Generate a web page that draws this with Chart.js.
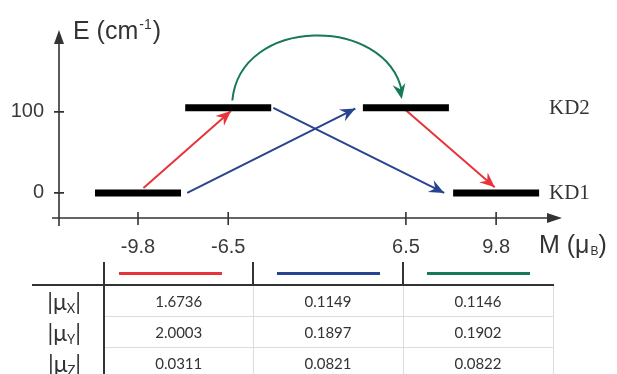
<!DOCTYPE html>
<html>
<head>
<meta charset="utf-8">
<script src="https://cdn.jsdelivr.net/npm/chart.js@4.4.1/dist/chart.umd.min.js"></script>
<style>
  html, body { margin: 0; padding: 0; background: #fff; }
  #wrap { position: relative; width: 617px; height: 374px; overflow: hidden; }
  #chart { position: absolute; left: 0; top: 0; }
  #mu { position: absolute; left: 32px; top: 262px; width: 521px; border-collapse: collapse; table-layout: fixed;
        font-family: Lato, 'Open Sans', 'Liberation Sans', sans-serif; color: #333; }
  #mu th { height: 22px; padding: 0; border-bottom: 2px solid #333; }
  #mu th + th { border-left: 2px solid #333; }
  #mu td { height: 30px; padding: 0; text-align: center; font-size: 15px; line-height: 18px;
           border: 1px solid #dcdcdc; border-top: none; }
  #mu td.lab { border: none; border-right: 2px solid #333; text-align: right; padding-right: 22px;
               font-size: 23px; line-height: 20px; }
  #mu td.lab sub { font-size: 13px; line-height: 0; vertical-align: -3px; }
  .sw { width: 103px; height: 3px; margin: 0 auto; }
  #mu th:nth-child(2) .sw { position: relative; left: -8px; }
</style>
</head>
<body>
<div id="wrap">
  <canvas id="chart" width="617" height="374"></canvas>
  <table id="mu"></table>
</div>
<script>
// energy levels (Kramers doublets) at M = -9.8, -6.5, 6.5, 9.8
const levelNames = ['KD1', 'KD2'];
const levelE = [0, 105];
const stateM = [-9.8, -6.5, 6.5, 9.8];
const stateE = [0, 105, 105, 0];

const mTicks = [-9.8, -6.5, 6.5, 9.8];
const eTicks = [0, 100];

// straight transitions (start M,E -> end M,E)
const transM0 = [-9.6, -8.0, -3.2, 6.5];
const transE0 = [6, 0, 105, 102];
const transM1 = [-6.3, 2.8, 7.9, 9.75];
const transE1 = [101, 104, 0, 7];
const transKind = [0, 1, 1, 0];   // index into colors

// curved (QTM) transition
const qtmM = [-6.2, 6.2];
const qtmE = [114, 116];
const qtmPeakE = 193;

const colors = ['#e6343a', '#28438f', '#17795a'];

// table of transition moments
const muAxes = ['X', 'Y', 'Z'];
const muRed = ['1.6736', '2.0003', '0.0311'];
const muBlue = ['0.1149', '0.1897', '0.0821'];
const muGreen = ['0.1146', '0.1902', '0.0822'];

// the M axis is broken: middle part between -6.5 and 6.5 is squeezed
function warp(m) {
  var a = Math.abs(m);
  return a <= 6.5 ? m * 0.5 : Math.sign(m) * (3.25 + a - 6.5);
}

var datasets = [];
datasets.push({
  data: stateM.map(function(m, i) { return { x: warp(m), y: stateE[i] }; }),
  showLine: false,
  pointStyle: 'line',
  pointRadius: 43,
  pointHoverRadius: 43,
  pointBorderWidth: 7,
  pointBorderColor: '#000',
  borderColor: '#000',
  clip: false,
  order: 0
});
for (var i = 0; i < transM0.length; i++) {
  datasets.push({
    data: [{ x: warp(transM0[i]), y: transE0[i] }, { x: warp(transM1[i]), y: transE1[i] }],
    showLine: true,
    borderColor: colors[transKind[i]],
    borderWidth: 2,
    pointRadius: 0,
    arrow: true,
    clip: false,
    order: 1
  });
}

function arrowHead(ctx, x, y, ang, color) {
  ctx.save();
  ctx.translate(x, y);
  ctx.rotate(ang);
  ctx.beginPath();
  ctx.moveTo(0, 0);
  ctx.lineTo(-15, -6.5);
  ctx.lineTo(-10, 0);
  ctx.lineTo(-15, 6.5);
  ctx.closePath();
  ctx.fillStyle = color;
  ctx.fill();
  ctx.restore();
}

// text with a raised / lowered small part
function richText(ctx, parts, x, y) {
  parts.forEach(function(p) {
    ctx.font = p.size + 'px ' + p.family;
    ctx.fillText(p.t, x, y + (p.dy || 0));
    x += ctx.measureText(p.t).width + (p.gap || 0);
  });
}

const decor = {
  id: 'decor',
  beforeDatasetsDraw: function(chart) {
    var ctx = chart.ctx, ca = chart.chartArea;
    var xs = chart.scales.x, ys = chart.scales.y;
    ctx.save();
    ctx.strokeStyle = '#333';
    ctx.fillStyle = '#333';
    ctx.lineWidth = 1.6;
    ctx.beginPath();
    ctx.moveTo(ca.left, ca.bottom + 8);
    ctx.lineTo(ca.left, ca.top + 10);
    ctx.moveTo(ca.left - 7, ca.bottom);
    ctx.lineTo(ca.right - 10, ca.bottom);
    eTicks.forEach(function(v) {
      var y = ys.getPixelForValue(v);
      ctx.moveTo(ca.left - 5, y);
      ctx.lineTo(ca.left + 5, y);
    });
    mTicks.forEach(function(m) {
      var x = xs.getPixelForValue(warp(m));
      ctx.moveTo(x, ca.bottom - 6);
      ctx.lineTo(x, ca.bottom + 7);
    });
    ctx.stroke();
    // axis arrows
    ctx.beginPath();
    ctx.moveTo(ca.left, ca.top);
    ctx.lineTo(ca.left - 5, ca.top + 14);
    ctx.lineTo(ca.left + 5, ca.top + 14);
    ctx.closePath();
    ctx.moveTo(ca.right, ca.bottom);
    ctx.lineTo(ca.right - 15, ca.bottom - 5);
    ctx.lineTo(ca.right - 15, ca.bottom + 5);
    ctx.closePath();
    ctx.fill();
    ctx.restore();
  },
  afterDraw: function(chart) {
    var ctx = chart.ctx;
    var xs = chart.scales.x, ys = chart.scales.y;
    ctx.save();
    // arrow heads of straight transitions
    chart.data.datasets.forEach(function(ds, di) {
      if (!ds.arrow) return;
      var pts = chart.getDatasetMeta(di).data;
      var a = pts[0], b = pts[1];
      arrowHead(ctx, b.x, b.y, Math.atan2(b.y - a.y, b.x - a.x), ds.borderColor);
    });
    // curved transition
    var x0 = xs.getPixelForValue(warp(qtmM[0])), y0 = ys.getPixelForValue(qtmE[0]);
    var x3 = xs.getPixelForValue(warp(qtmM[1])), y3 = ys.getPixelForValue(qtmE[1]);
    var yc = (ys.getPixelForValue(qtmPeakE) - 0.125 * (y0 + y3)) / 0.75;
    var x1 = x0 + 8, x2 = x3 - 16;
    ctx.strokeStyle = colors[2];
    ctx.lineWidth = 2;
    ctx.beginPath();
    ctx.moveTo(x0, y0);
    ctx.bezierCurveTo(x1, yc, x2, yc, x3, y3 - 8);
    ctx.stroke();
    arrowHead(ctx, x3, y3, Math.atan2(y3 - yc, x3 - x2), colors[2]);

    // level names
    ctx.fillStyle = '#333';
    ctx.textBaseline = 'middle';
    ctx.font = '21px "Liberation Serif", serif';
    levelNames.forEach(function(n, i) {
      ctx.fillText(n, 549, ys.getPixelForValue(levelE[i]) + 1);
    });

    // axis titles
    ctx.textBaseline = 'alphabetic';
    var sans = '"Liberation Sans", Arial, sans-serif';
    richText(ctx, [
      { t: 'E (cm', size: 25, family: sans, gap: 1 },
      { t: '-1', size: 14, family: sans, dy: -10, gap: 1 },
      { t: ')', size: 25, family: sans }
    ], 73, 39);
    richText(ctx, [
      { t: 'M (\u03bc', size: 25, family: sans, gap: 1 },
      { t: 'B', size: 12, family: sans, dy: 2 },
      { t: ')', size: 25, family: sans }
    ], 539, 253);
    ctx.restore();
  }
};

new Chart(document.getElementById('chart'), {
  type: 'scatter',
  data: { datasets: datasets },
  options: {
    responsive: false,
    animation: false,
    layout: { autoPadding: false, padding: { left: 0, right: 55, top: 30, bottom: 0 } },
    plugins: { legend: { display: false }, tooltip: { enabled: false } },
    scales: {
      x: {
        type: 'linear',
        min: -9.44,
        max: 8.96,
        afterBuildTicks: function(s) { s.ticks = mTicks.map(function(m) { return { value: warp(m) }; }); },
        afterFit: function(s) { s.height = 156; s.paddingLeft = 0; s.paddingRight = 0; },
        grid: { display: false, drawTicks: false },
        border: { display: false },
        ticks: {
          autoSkip: false,
          maxRotation: 0,
          padding: 17,
          color: '#3a3a3a',
          font: { family: '"Liberation Sans", Arial, sans-serif', size: 20 },
          callback: function(v, i) { return String(mTicks[i]); }
        }
      },
      y: {
        type: 'linear',
        min: -31,
        max: 201,
        afterBuildTicks: function(s) { s.ticks = eTicks.map(function(v) { return { value: v }; }); },
        afterFit: function(s) { s.width = 59; s.paddingTop = 0; s.paddingBottom = 0; },
        grid: { display: false, drawTicks: false },
        border: { display: false },
        ticks: {
          padding: 15,
          color: '#3a3a3a',
          font: { family: '"Liberation Sans", Arial, sans-serif', size: 20 }
        }
      }
    }
  },
  plugins: [decor]
});

// build the table
var tbl = document.getElementById('mu');
var cols = [muRed, muBlue, muGreen];
var html = '<colgroup><col style="width:72px"><col style="width:149px"><col style="width:150px"><col style="width:150px"></colgroup>';
html += '<tr><th></th>' + colors.map(function(c) { return '<th><div class="sw" style="background:' + c + '"></div></th>'; }).join('') + '</tr>';
muAxes.forEach(function(ax, r) {
  html += '<tr><td class="lab">|\u03bc<sub>' + ax + '</sub>|</td>' +
    cols.map(function(col) { return '<td>' + col[r] + '</td>'; }).join('') + '</tr>';
});
tbl.innerHTML = html;
</script>
</body>
</html>
